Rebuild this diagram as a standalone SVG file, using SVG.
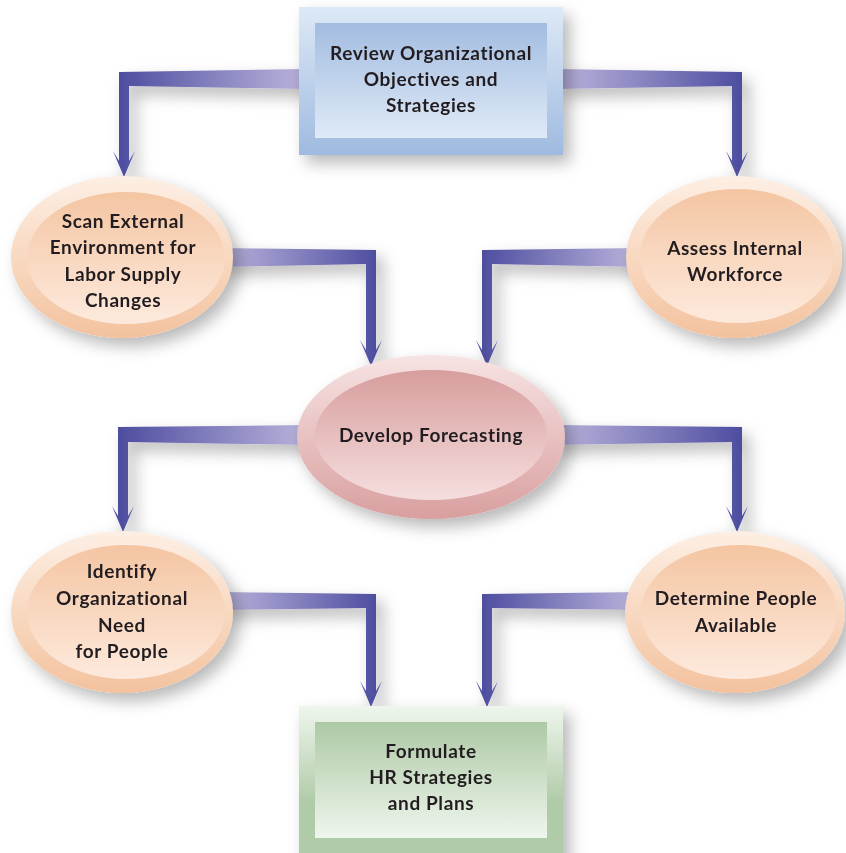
<svg xmlns="http://www.w3.org/2000/svg" width="846" height="853" viewBox="0 0 846 853">
<defs>
<filter id="sh" x="-20%" y="-20%" width="150%" height="160%">
<feDropShadow dx="7" dy="8" stdDeviation="8" flood-color="#000" flood-opacity="0.28"/>
</filter>
<linearGradient id="gL" x1="0" y1="0" x2="1" y2="0"><stop offset="0" stop-color="#4a4a9e"/><stop offset="0.9" stop-color="#b0aad6"/></linearGradient>
<linearGradient id="gR" x1="1" y1="0" x2="0" y2="0"><stop offset="0" stop-color="#4a4a9e"/><stop offset="0.9" stop-color="#b0aad6"/></linearGradient>
<linearGradient id="blueO" x1="0" y1="0" x2="0" y2="1"><stop offset="0" stop-color="#dde9f6"/><stop offset="1" stop-color="#9fbae0"/></linearGradient>
<linearGradient id="blueI" x1="0" y1="0" x2="0" y2="1"><stop offset="0" stop-color="#a2bce0"/><stop offset="1" stop-color="#dfeaf7"/></linearGradient>
<linearGradient id="greenO" x1="0" y1="0" x2="0" y2="1"><stop offset="0" stop-color="#eff6ed"/><stop offset="0.6" stop-color="#b0cba8"/><stop offset="1" stop-color="#b0cba8"/></linearGradient>
<linearGradient id="greenI" x1="0" y1="0" x2="0" y2="1"><stop offset="0" stop-color="#adc9a5"/><stop offset="1" stop-color="#eff6ed"/></linearGradient>
<linearGradient id="peachO" x1="0" y1="0" x2="0" y2="1"><stop offset="0" stop-color="#fdefe4"/><stop offset="1" stop-color="#f3c29e"/></linearGradient>
<linearGradient id="peachI" x1="0" y1="0" x2="0" y2="1"><stop offset="0" stop-color="#f4c5a2"/><stop offset="1" stop-color="#fdeadd"/></linearGradient>
<linearGradient id="pinkO" x1="0" y1="0" x2="0" y2="1"><stop offset="0" stop-color="#f7e3e3"/><stop offset="1" stop-color="#d99f9f"/></linearGradient>
<linearGradient id="pinkI" x1="0" y1="0" x2="0" y2="1"><stop offset="0" stop-color="#d89d9d"/><stop offset="1" stop-color="#f6dede"/></linearGradient>
</defs>
<style>
text{font-family:Lato,"Open Sans","Liberation Sans",sans-serif;font-weight:700;font-size:19px;letter-spacing:0.6px;font-variant-ligatures:none;fill:#231f20;text-anchor:middle}
.cl{fill:url(#gL)}
.cr{fill:url(#gR)}
.node{filter:url(#sh)}
</style>
<rect width="846" height="853" fill="#ffffff"/>
<g id="connectors" filter="url(#sh)">
<polygon class="cl" points="305,69 119,72 119,161 113,151 124,177 135,151 129,161 129,86 305,89"/>
<polygon class="cr" points="557,69 742,72 742,161 748,151 737,177 726,151 732,161 732,86 557,89"/>
<polygon class="cr" points="220,248 376,250 376,350 382,340 371,366 360,340 366,350 366,264 220,267"/>
<polygon class="cl" points="640,248 482,250 482,350 476,340 487,366 498,340 492,350 492,264 640,267"/>
<polygon class="cl" points="310,425 118,427 118,516 112,506 123,532 134,506 128,516 128,442 310,445"/>
<polygon class="cr" points="552,425 742,427 742,516 748,506 737,532 726,506 732,516 732,442 552,445"/>
<polygon class="cr" points="220,592 376,594 376,691 382,681 371,707 360,681 366,691 366,608 220,610"/>
<polygon class="cl" points="640,592 482,594 482,691 476,681 487,707 498,681 492,691 492,608 640,610"/>
</g>
<g id="review" class="node">
<rect x="299" y="7" width="264" height="148" fill="url(#blueO)"/>
<rect x="315" y="23" width="232" height="115" fill="url(#blueI)"/>
<text x="431" y="60">Review Organizational</text>
<text x="431" y="86">Objectives and</text>
<text x="431" y="112">Strategies</text>
</g>
<g id="scan" class="node">
<ellipse cx="122" cy="257" rx="111" ry="81" fill="url(#peachO)"/>
<ellipse cx="126" cy="258" rx="99" ry="66" fill="url(#peachI)"/>
<text x="123" y="228">Scan External</text>
<text x="123" y="254">Environment for</text>
<text x="123" y="281">Labor Supply</text>
<text x="123" y="307">Changes</text>
</g>
<g id="assess" class="node">
<ellipse cx="734" cy="257" rx="108" ry="81" fill="url(#peachO)"/>
<ellipse cx="737" cy="256" rx="97" ry="67" fill="url(#peachI)"/>
<text x="735" y="255">Assess Internal</text>
<text x="735" y="281">Workforce</text>
</g>
<g id="develop" class="node">
<ellipse cx="431" cy="437" rx="134" ry="82" fill="url(#pinkO)"/>
<ellipse cx="431" cy="435" rx="116" ry="65" fill="url(#pinkI)"/>
<text x="431" y="442">Develop Forecasting</text>
</g>
<g id="identify" class="node">
<ellipse cx="122" cy="612" rx="111" ry="81" fill="url(#peachO)"/>
<ellipse cx="126" cy="612" rx="99" ry="67" fill="url(#peachI)"/>
<text x="122" y="578">Identify</text>
<text x="122" y="605">Organizational</text>
<text x="122" y="632">Need</text>
<text x="122" y="658">for People</text>
</g>
<g id="determine" class="node">
<ellipse cx="735" cy="612" rx="110" ry="81" fill="url(#peachO)"/>
<ellipse cx="739" cy="612" rx="98" ry="67" fill="url(#peachI)"/>
<text x="736" y="605">Determine People</text>
<text x="736" y="632">Available</text>
</g>
<g id="formulate" class="node">
<rect x="299" y="706" width="264" height="160" fill="url(#greenO)"/>
<rect x="315" y="722" width="232" height="116" fill="url(#greenI)"/>
<text x="431" y="758">Formulate</text>
<text x="431" y="784">HR Strategies</text>
<text x="431" y="810">and Plans</text>
</g>
</svg>
